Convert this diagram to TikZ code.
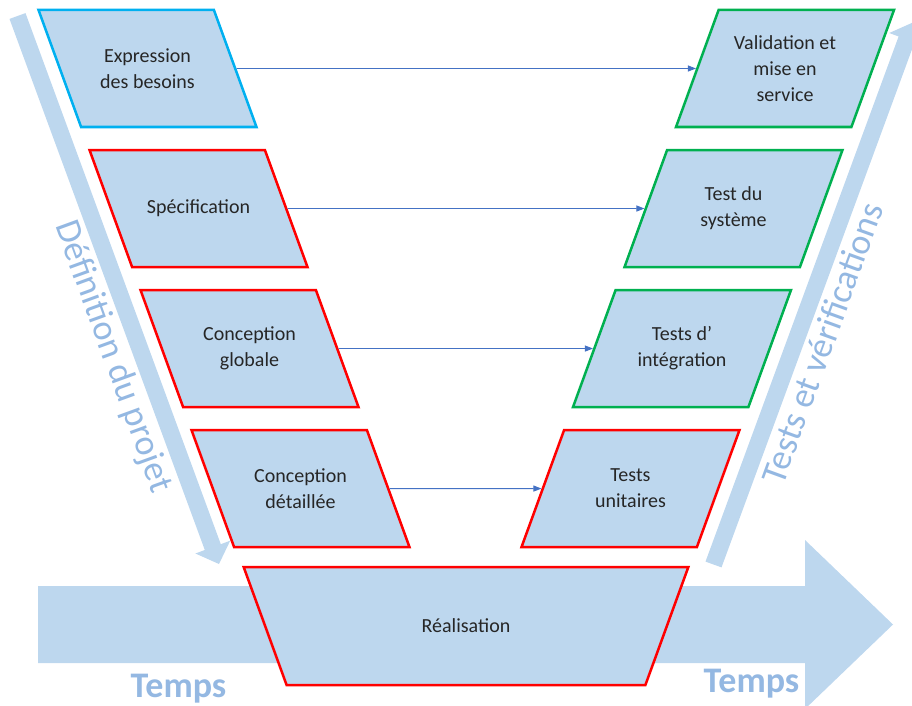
\documentclass[tikz,border=0pt]{standalone}
\usepackage{fontspec}
\setmainfont{Carlito}
\usetikzlibrary{arrows.meta,positioning,shapes.geometric}

\definecolor{boxfill}{RGB}{189,215,238}
\definecolor{labelblue}{RGB}{148,184,226}
\definecolor{cyanline}{RGB}{0,176,240}
\definecolor{redline}{RGB}{255,0,0}
\definecolor{greenline}{RGB}{0,176,80}
\definecolor{linkblue}{RGB}{68,114,196}

% text block of a phase box (fixed size, so that all boxes get the same shape)
\newcommand{\boxtext}[2][132pt]{\parbox[c][80pt][c]{#1}{\centering #2}}

\tikzset{
	phase/.style={draw,fill=boxfill,trapezium,line width=2.5pt,
		inner xsep=0.4pt,inner ysep=18.5pt,minimum width=1pt,minimum height=1pt,
		text=black!85,font=\fontsize{20}{26}\selectfont},
	leftbox/.style={phase,trapezium left angle=110,trapezium right angle=70},
	rightbox/.style={phase,trapezium left angle=70,trapezium right angle=110},
	link/.style={draw=linkblue,line width=0.9pt,-{Triangle[length=8pt,width=6pt]}},
	sidelabel/.style={text=labelblue,inner sep=0pt,font=\fontsize{36}{40}\selectfont},
	timelabel/.style={text=labelblue,inner sep=0pt,font=\fontsize{36}{40}\selectfont\bfseries}
}

\begin{document}
\begin{tikzpicture}[x=1pt,y=-1pt,node distance=20.5pt]
	\useasboundingbox (0,0) rectangle (912,706);
	\clip (0,0) rectangle (912,706);
	% large arrows behind the boxes
	\fill[boxfill] (38,586) -- (805,586) -- (805,540) -- (893,624.5) -- (805,709)
		-- (805,663) -- (38,663) -- cycle;
	\fill[boxfill] (9.5,18.9) -- (25.5,13.1) -- (220.8,544.2) -- (230.2,540.7)
		-- (219,564) -- (195.4,553.5) -- (204.8,550.0) -- cycle;
	\fill[boxfill] (705.5,561.6) -- (721.5,567.4) -- (914.6,42.3) -- (924,45.8)
		-- (912.8,22.5) -- (889.2,33.0) -- (898.6,36.5) -- cycle;

	% left branch
	\node[leftbox,draw=cyanline] (besoins) at (147.5,68.5) {\boxtext{Expression\\des besoins}};
	\node[leftbox,draw=redline] (specif) [below=of besoins,xshift=51pt] {\boxtext{Spécification}};
	\node[leftbox,draw=redline] (globale) [below=of specif,xshift=51pt] {\boxtext{Conception\\globale}};
	\node[leftbox,draw=redline] (detaillee) [below=of globale,xshift=51pt] {\boxtext{Conception\\détaillée}};
	% right branch
	\node[rightbox,draw=greenline] (validation) at (785,68.5) {\boxtext{Validation et\\mise en\\service}};
	\node[rightbox,draw=greenline] (systeme) [below=of validation,xshift=-51.5pt] {\boxtext{Test du\\système}};
	\node[rightbox,draw=greenline] (integration) [below=of systeme,xshift=-51.5pt] {\boxtext{Tests d’\\intégration}};
	\node[rightbox,draw=redline] (unitaires) [below=of integration,xshift=-51.5pt] {\boxtext{Tests\\unitaires}};
	% bottom
	\node[phase,draw=redline,inner ysep=19pt,trapezium left angle=110,trapezium right angle=110]
		(realisation) at (466,626) {\boxtext[358pt]{Réalisation}};

	\draw[link] (besoins) -- (validation);
	\draw[link] (specif) -- (systeme);
	\draw[link] (globale) -- (integration);
	\draw[link] (detaillee) -- (unitaires);

	\node[sidelabel,rotate=-70] (definition) at (113,357) {Définition du projet};
	\node[sidelabel,rotate=70] (verification) at (822,343) {Tests et vérifications};
	\node[timelabel,anchor=base] (tempsLeft) at (178.5,697) {Temps};
	\node[timelabel,anchor=base] (tempsRight) at (751.5,692) {Temps};
\end{tikzpicture}
\end{document}
